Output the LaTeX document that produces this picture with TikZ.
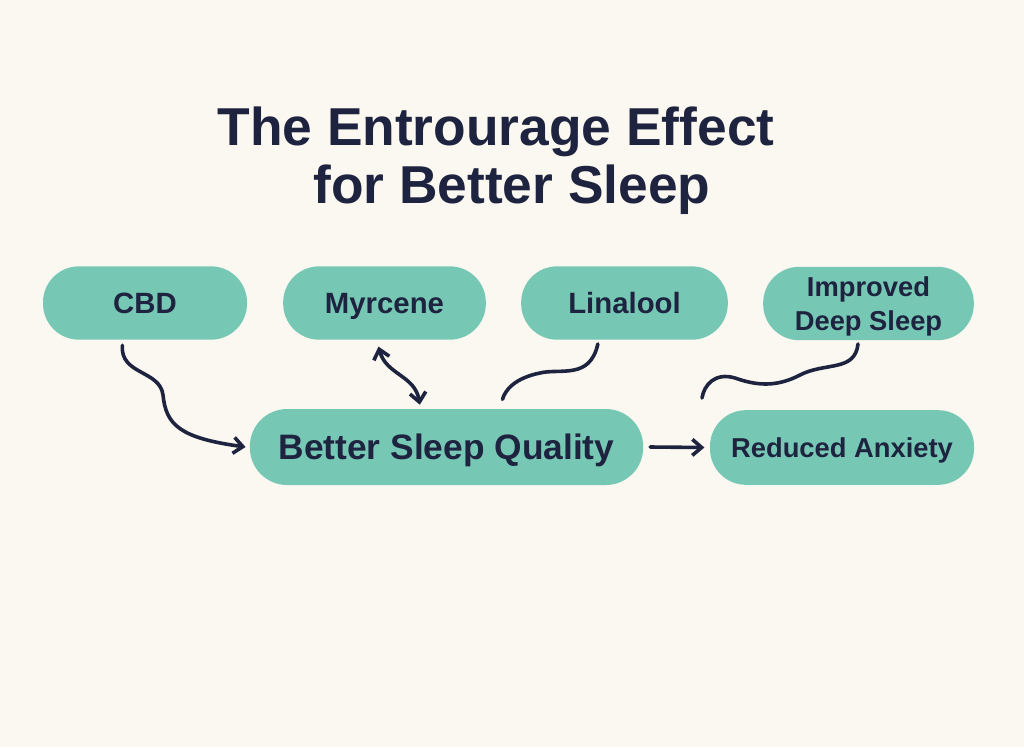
\documentclass[tikz,border=0pt]{standalone}
\usepackage{fontspec}
\setmainfont{Liberation Sans}
\usetikzlibrary{arrows.meta}
\definecolor{bgcream}{HTML}{FAF8F0}
\definecolor{pillteal}{HTML}{76C8B4}
\definecolor{inkdark}{HTML}{1E2340}
\tikzset{
  pill/.style={fill=pillteal, draw=none, rounded corners=27pt, minimum height=55pt,
    text=inkdark, font=\bfseries\fontsize{22}{25.5}\selectfont, align=center, inner sep=0pt,
    text height=15.8pt, text depth=0pt},
  link/.style={draw=inkdark, line width=2.7pt, line cap=round, line join=round},
  barb/.tip={Straight Barb[length=7pt,width=12pt,line width=2.7pt]},
  tip/.style={-barb},
}
\begin{document}
\begin{tikzpicture}[x=0.75pt,y=-0.75pt]
\fill[bgcream] (0,0) rectangle (1024,747);
\useasboundingbox (0,0) rectangle (1024,747);

\node[text=inkdark, font=\bfseries\fontsize{40}{44}\selectfont, anchor=base] (t1) at (496,145) {The Entrourage Effect};
\node[text=inkdark, font=\bfseries\fontsize{40}{44}\selectfont, anchor=base] (t2) at (512,203) {for Better Sleep};

\node[pill, minimum width=153pt] (cbd) at (145,303) {CBD};
\node[pill, minimum width=152pt] (myr) at (384.5,303) {Myrcene};
\node[pill, minimum width=155pt] (lin) at (624.5,303) {Linalool};
\node[pill, minimum width=158pt, text height=, text depth=0pt, font=\bfseries\fontsize{20.5}{25.5}\selectfont] (ids) at (868.5,303.5) {Improved\\Deep Sleep};
\node[pill, minimum width=295pt, minimum height=57pt, rounded corners=28pt, text height=19pt, font=\bfseries\fontsize{26.5}{30}\selectfont] (bsq) at (446.5,447) {Better Sleep Quality};
\node[pill, minimum width=198pt, minimum height=56pt, text height=14.7pt, font=\bfseries\fontsize{20.5}{24}\selectfont] (red) at (842,447.5) {Reduced Anxiety};

\coordinate (c1) at ([xshift=-17pt,yshift=-4pt]cbd.south);
\coordinate (c2) at ([xshift=-4.5pt,yshift=-5pt]myr.south);
\coordinate (c3) at ([xshift=-20pt,yshift=-3pt]lin.south);
\coordinate (c4) at (858,344);
\coordinate (b2) at ([xshift=-20pt,yshift=3pt]bsq.north);
\coordinate (b3) at ([xshift=42pt,yshift=7pt]bsq.north);
\coordinate (f4) at (702,398);
\coordinate (b5) at ([xshift=5pt]bsq.east);
\coordinate (r5) at ([xshift=-4pt]red.west);

% CBD -> Better Sleep Quality
\draw[link, tip] (c1) .. controls (120,375) and (160,370) .. (163,395)
  .. controls (166,425) and (180,438) .. ([xshift=-3pt]bsq.west);
% Myrcene <-> Better Sleep Quality
\draw[link, barb-barb] (c2) .. controls (386,375) and (415,375) .. (b2);
% Linalool - Better Sleep Quality
\draw[link] (c3) .. controls (590,380) and (560,368) .. (540,373) .. controls (515,378) and (505,390) .. (b3);
% Improved Deep Sleep - free end
\draw[link] (c4) .. controls (855,372) and (825,362) .. (800,375)
  .. controls (775,388) and (755,385) .. (735,378)
  .. controls (715,372) and (704,385) .. (f4);
% Better Sleep Quality -> Reduced Anxiety
\draw[link, tip] (b5) -- (r5);
\end{tikzpicture}
\end{document}
